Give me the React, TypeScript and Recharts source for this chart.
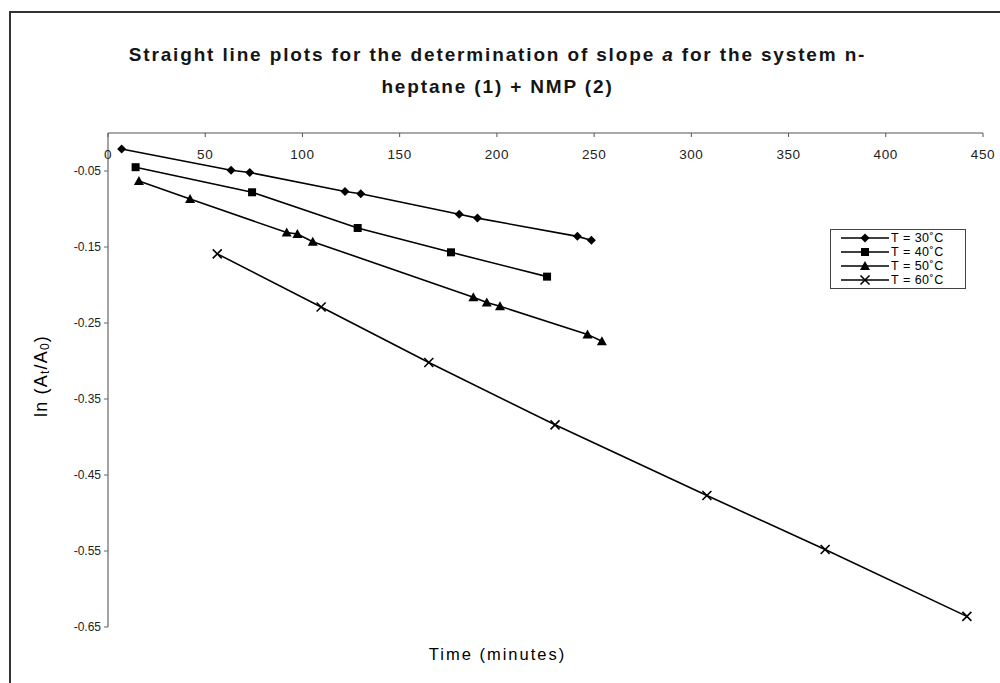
import React from 'react';
import { ScatterChart, Scatter, XAxis, YAxis, Legend, Label } from 'recharts';

const xTicks = [0, 50, 100, 150, 200, 250, 300, 350, 400, 450];
const yTicks = [-0.05, -0.15, -0.25, -0.35, -0.45, -0.55, -0.65];

const seriesNames = ['T = 30˚C', 'T = 40˚C', 'T = 50˚C', 'T = 60˚C'];

const t30 = [7.0, 63.3, 72.9, 121.9, 130.0, 180.6, 190.0, 241.4, 248.6];
const y30 = [-0.021, -0.049, -0.052, -0.077, -0.080, -0.107, -0.112, -0.136, -0.141];

const t40 = [14.2, 74.1, 128.4, 176.4, 225.8];
const y40 = [-0.045, -0.078, -0.125, -0.157, -0.189];

const t50 = [15.9, 42.2, 91.9, 97.4, 105.3, 187.9, 194.8, 201.6, 246.6, 254.0];
const y50 = [-0.063, -0.087, -0.131, -0.133, -0.143, -0.216, -0.223, -0.228, -0.265, -0.274];

const t60 = [56.2, 109.6, 165.0, 229.9, 308.0, 368.8, 441.7];
const y60 = [-0.159, -0.229, -0.302, -0.384, -0.477, -0.548, -0.636];

const toPoints = (t: number[], y: number[]) => t.map((x, i) => ({ x, y: y[i] }));

const FONT = '"Liberation Sans", Arial, sans-serif';

type Kind = 'diamond' | 'square' | 'triangle' | 'cross';
const kinds: Kind[] = ['diamond', 'square', 'triangle', 'cross'];

const drawMarker = (kind: Kind, cx: number, cy: number, key?: string) => {
  const s = 4.5;
  if (kind === 'diamond')
    return <path key={key} d={`M${cx},${cy - s} L${cx + s},${cy} L${cx},${cy + s} L${cx - s},${cy} Z`} fill="#000" />;
  if (kind === 'square')
    return <rect key={key} x={cx - 4} y={cy - 4} width={8} height={8} fill="#000" />;
  if (kind === 'triangle')
    return <path key={key} d={`M${cx},${cy - 5} L${cx + 5},${cy + 4} L${cx - 5},${cy + 4} Z`} fill="#000" />;
  return (
    <g key={key}>
      <line x1={cx - 4.5} y1={cy - 4.5} x2={cx + 4.5} y2={cy + 4.5} stroke="#000" strokeWidth={1.6} />
      <line x1={cx - 4.5} y1={cy + 4.5} x2={cx + 4.5} y2={cy - 4.5} stroke="#000" strokeWidth={1.6} />
    </g>
  );
};

const makeShape = (kind: Kind) => (props: any) => drawMarker(kind, props.cx, props.cy);

const renderLegend = () => (
  <div
    style={{
      border: '1px solid #444',
      background: '#fff',
      width: 136,
      height: 60,
      boxSizing: 'border-box',
      padding: '1px 0 0 10px',
      fontFamily: FONT,
      fontSize: 12.5,
      letterSpacing: 0.5,
      color: '#000',
    }}
  >
    {seriesNames.map((name, i) => (
      <div key={name} style={{ display: 'flex', alignItems: 'center', height: 14, lineHeight: '14px' }}>
        <svg width={48} height={12} style={{ flex: 'none' }}>
          <line x1={0} y1={6} x2={48} y2={6} stroke="#000" strokeWidth={1.3} />
          {drawMarker(kinds[i], 24, 6)}
        </svg>
        <span style={{ marginLeft: 2, whiteSpace: 'nowrap', lineHeight: '14px' }}>{name}</span>
      </div>
    ))}
  </div>
);

const YLabel = (props: any) => {
  const vb = props.viewBox || { x: 0, y: 0, width: 0, height: 0 };
  const cx = vb.x + 21;
  const cy = vb.y + vb.height / 2 - 4;
  return (
    <text
      x={cx}
      y={cy}
      transform={`rotate(-90 ${cx} ${cy})`}
      textAnchor="middle"
      dominantBaseline="central"
      fontFamily={FONT}
      fontSize={18}
      letterSpacing={1.2}
      fill="#000"
    >
      ln (A
      <tspan fontSize={12} dy={4}>t</tspan>
      <tspan dy={-4}>/A</tspan>
      <tspan fontSize={12} dy={4}>0</tspan>
      <tspan dy={-4}>)</tspan>
    </text>
  );
};

export default function App() {
  const series = [toPoints(t30, y30), toPoints(t40, y40), toPoints(t50, y50), toPoints(t60, y60)];
  return (
    <div style={{ position: 'absolute', left: 0, top: 0, width: 1000, height: 683, background: '#fff', overflow: 'hidden' }}>
      <div
        style={{
          position: 'absolute',
          left: 9,
          top: 11,
          width: 1000,
          height: 700,
          borderLeft: '2px solid #333',
          borderTop: '2px solid #333',
        }}
      />
      <div
        style={{
          position: 'absolute',
          left: 0,
          width: 995,
          top: 39,
          textAlign: 'center',
          fontFamily: FONT,
          fontSize: 19,
          fontWeight: 'bold',
          letterSpacing: 1.85,
          lineHeight: '32px',
          color: '#151515',
        }}
      >
        Straight line plots for the determination of slope <i>a</i> for the system n-
        <br />
        heptane (1) + NMP (2)
      </div>
      <div
        style={{
          position: 'absolute',
          left: 0,
          width: 995,
          top: 645,
          textAlign: 'center',
          fontFamily: FONT,
          fontSize: 16.5,
          color: '#000',
          letterSpacing: 2,
        }}
      >
        Time (minutes)
      </div>
      <div style={{ position: 'absolute', left: 0, top: 0 }}>
        <ScatterChart width={1000} height={683} margin={{ top: 133, right: 17, bottom: 56, left: 20 }}>
          <XAxis
            type="number"
            dataKey="x"
            orientation="top"
            mirror
            domain={[0, 450]}
            ticks={xTicks}
            allowDataOverflow
            axisLine={{ stroke: '#555', strokeWidth: 1.2 }}
            tickLine={{ stroke: '#555' }}
            tickSize={4}
            tickMargin={12}
            tick={{ fontFamily: FONT, fontSize: 13.5, fill: '#222', letterSpacing: 0.6 }}
          />
          <YAxis
            type="number"
            dataKey="y"
            width={88}
            domain={[-0.65, 0]}
            ticks={yTicks}
            allowDataOverflow
            tickFormatter={(v: number) => v.toFixed(2)}
            axisLine={{ stroke: '#666', strokeWidth: 1.2 }}
            tickLine={{ stroke: '#666' }}
            tickSize={4}
            tickMargin={3}
            tick={{ fontFamily: FONT, fontSize: 12, fill: '#222' }}
          >
            <Label content={<YLabel />} />
          </YAxis>
          <Legend
            layout="vertical"
            align="center"
            verticalAlign="middle"
            content={renderLegend}
            wrapperStyle={{ left: 830, top: 229, width: 136, height: 60 }}
          />
          {series.map((pts, i) => (
            <Scatter
              key={seriesNames[i]}
              name={seriesNames[i]}
              data={pts}
              fill="#000"
              line={{ stroke: '#000', strokeWidth: 1.6 }}
              lineType="joint"
              shape={makeShape(kinds[i])}
              isAnimationActive={false}
            />
          ))}
        </ScatterChart>
      </div>
    </div>
  );
}
